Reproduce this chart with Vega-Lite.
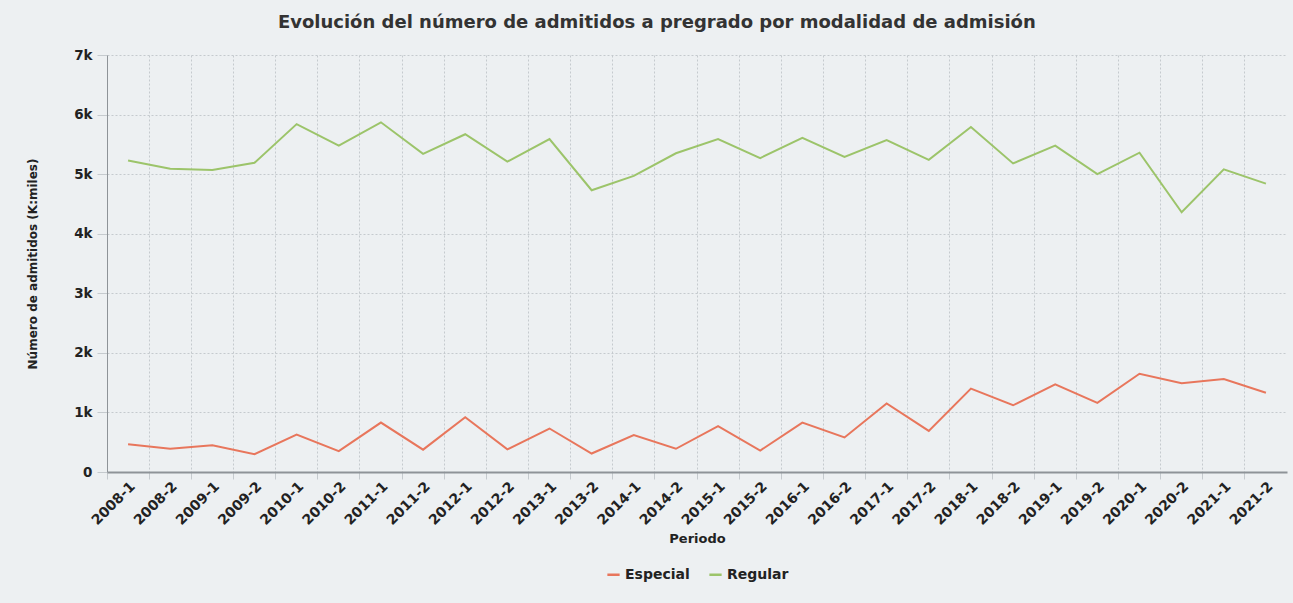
{
  "$schema": "https://vega.github.io/schema/vega-lite/v6.json",
  "autosize": {"type": "none"},
  "width": 1180,
  "height": 417,
  "padding": {"left": 107, "top": 55, "right": 6, "bottom": 131},
  "background": "#edf0f2",
  "title": {
    "text": "Evolución del número de admitidos a pregrado por modalidad de admisión",
    "font": "DejaVu Sans",
    "fontSize": 18,
    "fontWeight": "bold",
    "color": "#333333",
    "anchor": "middle",
    "frame": "bounds",
    "offset": 16
  },
  "data": {
    "values": [
      {"periodo": "2008-1", "modalidad": "Especial", "admitidos": 465},
      {"periodo": "2008-2", "modalidad": "Especial", "admitidos": 390},
      {"periodo": "2009-1", "modalidad": "Especial", "admitidos": 450},
      {"periodo": "2009-2", "modalidad": "Especial", "admitidos": 300},
      {"periodo": "2010-1", "modalidad": "Especial", "admitidos": 630},
      {"periodo": "2010-2", "modalidad": "Especial", "admitidos": 350},
      {"periodo": "2011-1", "modalidad": "Especial", "admitidos": 830},
      {"periodo": "2011-2", "modalidad": "Especial", "admitidos": 375},
      {"periodo": "2012-1", "modalidad": "Especial", "admitidos": 920},
      {"periodo": "2012-2", "modalidad": "Especial", "admitidos": 380},
      {"periodo": "2013-1", "modalidad": "Especial", "admitidos": 730},
      {"periodo": "2013-2", "modalidad": "Especial", "admitidos": 310},
      {"periodo": "2014-1", "modalidad": "Especial", "admitidos": 620},
      {"periodo": "2014-2", "modalidad": "Especial", "admitidos": 390},
      {"periodo": "2015-1", "modalidad": "Especial", "admitidos": 770},
      {"periodo": "2015-2", "modalidad": "Especial", "admitidos": 360},
      {"periodo": "2016-1", "modalidad": "Especial", "admitidos": 830},
      {"periodo": "2016-2", "modalidad": "Especial", "admitidos": 580},
      {"periodo": "2017-1", "modalidad": "Especial", "admitidos": 1150},
      {"periodo": "2017-2", "modalidad": "Especial", "admitidos": 690},
      {"periodo": "2018-1", "modalidad": "Especial", "admitidos": 1400},
      {"periodo": "2018-2", "modalidad": "Especial", "admitidos": 1120},
      {"periodo": "2019-1", "modalidad": "Especial", "admitidos": 1470},
      {"periodo": "2019-2", "modalidad": "Especial", "admitidos": 1160},
      {"periodo": "2020-1", "modalidad": "Especial", "admitidos": 1650},
      {"periodo": "2020-2", "modalidad": "Especial", "admitidos": 1490},
      {"periodo": "2021-1", "modalidad": "Especial", "admitidos": 1560},
      {"periodo": "2021-2", "modalidad": "Especial", "admitidos": 1330},
      {"periodo": "2008-1", "modalidad": "Regular", "admitidos": 5230},
      {"periodo": "2008-2", "modalidad": "Regular", "admitidos": 5090},
      {"periodo": "2009-1", "modalidad": "Regular", "admitidos": 5070},
      {"periodo": "2009-2", "modalidad": "Regular", "admitidos": 5190},
      {"periodo": "2010-1", "modalidad": "Regular", "admitidos": 5840},
      {"periodo": "2010-2", "modalidad": "Regular", "admitidos": 5480},
      {"periodo": "2011-1", "modalidad": "Regular", "admitidos": 5870},
      {"periodo": "2011-2", "modalidad": "Regular", "admitidos": 5340},
      {"periodo": "2012-1", "modalidad": "Regular", "admitidos": 5670},
      {"periodo": "2012-2", "modalidad": "Regular", "admitidos": 5210},
      {"periodo": "2013-1", "modalidad": "Regular", "admitidos": 5590},
      {"periodo": "2013-2", "modalidad": "Regular", "admitidos": 4730},
      {"periodo": "2014-1", "modalidad": "Regular", "admitidos": 4970},
      {"periodo": "2014-2", "modalidad": "Regular", "admitidos": 5350},
      {"periodo": "2015-1", "modalidad": "Regular", "admitidos": 5590},
      {"periodo": "2015-2", "modalidad": "Regular", "admitidos": 5270},
      {"periodo": "2016-1", "modalidad": "Regular", "admitidos": 5610},
      {"periodo": "2016-2", "modalidad": "Regular", "admitidos": 5290},
      {"periodo": "2017-1", "modalidad": "Regular", "admitidos": 5570},
      {"periodo": "2017-2", "modalidad": "Regular", "admitidos": 5240},
      {"periodo": "2018-1", "modalidad": "Regular", "admitidos": 5790},
      {"periodo": "2018-2", "modalidad": "Regular", "admitidos": 5180},
      {"periodo": "2019-1", "modalidad": "Regular", "admitidos": 5480},
      {"periodo": "2019-2", "modalidad": "Regular", "admitidos": 5000},
      {"periodo": "2020-1", "modalidad": "Regular", "admitidos": 5360},
      {"periodo": "2020-2", "modalidad": "Regular", "admitidos": 4360},
      {"periodo": "2021-1", "modalidad": "Regular", "admitidos": 5080},
      {"periodo": "2021-2", "modalidad": "Regular", "admitidos": 4840}
    ]
  },
  "mark": {"type": "line", "strokeWidth": 2},
  "encoding": {
    "x": {
      "field": "periodo",
      "type": "ordinal",
      "sort": null,
      "scale": {"type": "band", "paddingInner": 0, "paddingOuter": 0},
      "axis": {
        "title": "Periodo",
        "titleFont": "DejaVu Sans",
        "titleFontSize": 13,
        "titleFontWeight": "bold",
        "titleColor": "#222222",
        "titlePadding": 5,
        "labelAngle": -45,
        "labelFont": "DejaVu Sans",
        "labelFontSize": 14,
        "labelFontWeight": "bold",
        "labelColor": "#222222",
        "labelPadding": 0,
        "bandPosition": 0,
        "tickSize": 7,
        "tickColor": "#c5cace",
        "domainColor": "#8e9398",
        "domainWidth": 2,
        "grid": true,
        "gridColor": "#c5cace",
        "gridDash": [2, 2],
        "gridWidth": 1
      }
    },
    "y": {
      "field": "admitidos",
      "type": "quantitative",
      "scale": {"domain": [0, 7000], "nice": false},
      "axis": {
        "title": "Número de admitidos (K:miles)",
        "titleFont": "DejaVu Sans",
        "titleFontSize": 12,
        "titleFontWeight": "bold",
        "titleColor": "#222222",
        "titlePadding": 34,
        "values": [0, 1000, 2000, 3000, 4000, 5000, 6000, 7000],
        "labelExpr": "datum.value == 0 ? '0' : format(datum.value / 1000, 'd') + 'k'",
        "labelFont": "DejaVu Sans",
        "labelFontSize": 13.5,
        "labelFontWeight": "bold",
        "labelColor": "#222222",
        "labelPadding": 5,
        "tickSize": 10,
        "tickColor": "#c5cace",
        "domainColor": "#8e9398",
        "domainWidth": 1,
        "grid": true,
        "gridColor": "#c5cace",
        "gridDash": [2, 2],
        "gridWidth": 1
      }
    },
    "color": {
      "field": "modalidad",
      "type": "nominal",
      "scale": {"domain": ["Especial", "Regular"], "range": ["#e8765c", "#9cc46a"]},
      "legend": {
        "title": null,
        "orient": "none",
        "legendX": 499,
        "legendY": 512,
        "direction": "horizontal",
        "symbolType": "stroke",
        "symbolStrokeWidth": 2.5,
        "symbolSize": 150,
        "labelFont": "DejaVu Sans",
        "labelFontSize": 14,
        "labelFontWeight": "bold",
        "labelColor": "#222222",
        "columnPadding": 14
      }
    }
  },
  "config": {
    "view": {"stroke": null}
  }
}
